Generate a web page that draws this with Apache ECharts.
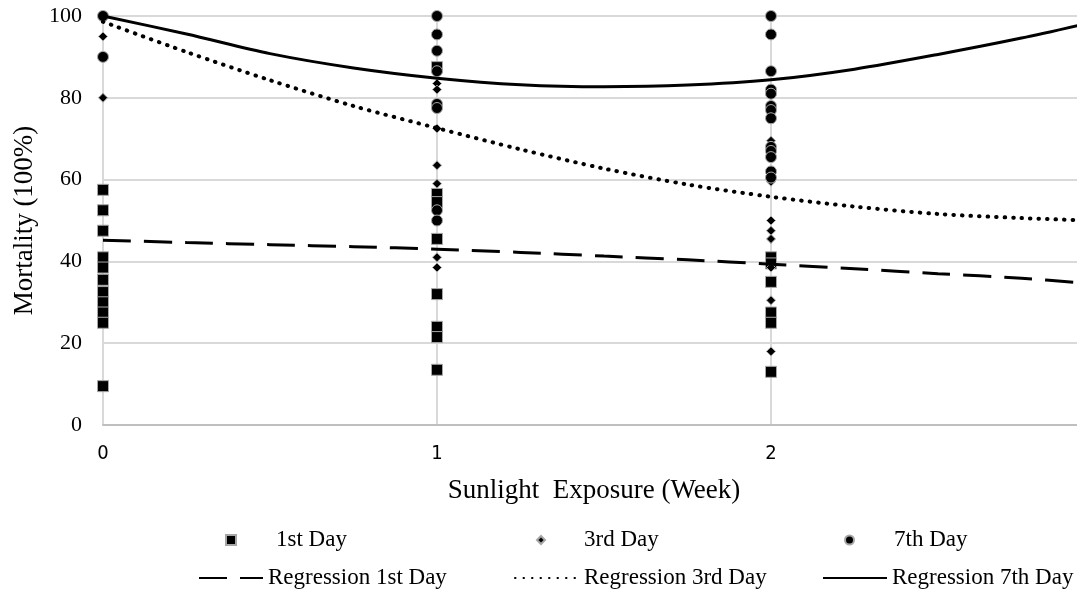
<!DOCTYPE html>
<html>
<head>
<meta charset="utf-8">
<title>Mortality vs Sunlight Exposure</title>
<script src="https://cdn.jsdelivr.net/npm/echarts@6/dist/echarts.min.js"></script>
<style>
  html, body { margin: 0; padding: 0; background: #fff; }
  #chart { width: 1077px; height: 593px; }
</style>
</head>
<body>
<div id="chart"></div>
<script>
// weeks of sunlight exposure for the measured points
const weeks = [0, 1, 2]

// mortality, per week
const day1Week0 = [57.5, 52.5, 47.5, 41, 38.5, 35.5, 32.5, 30, 27.5, 25, 9.5]
const day1Week1 = [87.5, 56.5, 54.5, 45.5, 32, 24, 21.5, 13.5]
const day1Week2 = [41, 39.5, 35, 27.5, 25, 13]

const day3Week0 = [100, 95, 80]
const day3Week1 = [83.5, 82, 72.5, 63.5, 59, 41, 38.5]
const day3Week2 = [75, 69.5, 59.5, 50, 47.5, 45.5, 38.5, 30.5, 18]

const day7Week0 = [100, 90]
const day7Week1 = [100, 95.5, 91.5, 86.5, 78.5, 77.5, 52.5, 50]
const day7Week2 = [100, 95.5, 86.5, 82, 81, 78, 77, 75, 68, 67, 65.5, 62, 60.5]

// regression curves, read at these x positions
const fitWeeks = [0, 0.25, 0.5, 0.75, 1, 1.25, 1.5, 1.75, 2, 2.25, 2.5, 2.75, 2.92]
const reg1 = [45.2, 44.6, 44.1, 43.6, 43.0, 42.2, 41.3, 40.4, 39.3, 38.2, 37.0, 35.9, 34.8]
const reg3 = [98.6, 91.2, 84.3, 78.0, 72.6, 67.4, 62.7, 58.8, 55.8, 53.4, 51.6, 50.6, 50.1]
const reg7 = [100, 95.6, 90.8, 87.3, 84.8, 83.2, 82.7, 83.1, 84.4, 87.0, 90.6, 94.6, 97.7]

const yTicks = [0, 20, 40, 60, 80, 100]

function points(groups) {
  let out = []
  groups.forEach((vals, i) => {
    vals.forEach(v => out.push([weeks[i], v]))
  })
  return out
}

function curve(ys) {
  return ys.map((y, i) => [fitWeeks[i], y])
}

const serif = "'Liberation Serif', 'Times New Roman', serif"

let myChart = echarts.init(document.getElementById('chart'))

const markerStyle = {
  color: '#000',
  borderColor: '#a6a6a6',
  borderWidth: 1,
  opacity: 1,
}

function legendBox(name, left, top, w, h, pad, isLine) {
  let box = {
    data: [name],
    left: left,
    top: top,
    padding: 0,
    itemWidth: w,
    itemHeight: h,
    selectedMode: false,
    textStyle: {
      fontFamily: serif,
      fontSize: 23,
      lineHeight: 26,
      color: '#000',
      padding: [0, 0, 0, pad],
    },
  }
  // line legends: only the stroke, no marker in the middle
  if (isLine) {
    box.itemStyle = { color: 'rgba(0,0,0,0)', borderWidth: 0, opacity: 0 }
  }
  return box
}

myChart.setOption({
  animation: false,
  backgroundColor: '#fff',
  grid: {
    left: 103,
    right: -28,
    top: 16,
    bottom: 168,
    outerBoundsMode: 'none',
    containLabel: false,
  },
  legend: [
    legendBox('1st Day', 225, 527, 10, 10, 35),
    legendBox('3rd Day', 536, 527, 8, 8, 34),
    legendBox('7th Day', 844, 527, 9, 9, 35),
    legendBox('Regression 1st Day', 198, 565, 64, 14, 0, true),
    legendBox('Regression 3rd Day', 514, 565, 64, 14, 0, true),
    legendBox('Regression 7th Day', 822, 565, 64, 14, 0, true),
  ],
  xAxis: {
    type: 'value',
    min: 0,
    max: 3,
    interval: 1,
    name: 'Sunlight  Exposure (Week)',
    nameLocation: 'middle',
    nameGap: 52,
    nameTextStyle: {
      fontFamily: serif,
      fontSize: 27,
      color: '#000',
      padding: [0, 20, 0, 0],
    },
    axisLine: {
      lineStyle: { color: '#bfbfbf', width: 2 },
    },
    axisTick: { show: false },
    axisLabel: {
      margin: 19,
      showMaxLabel: false,
      fontFamily: "'Liberation Sans Narrow', 'DejaVu Sans Condensed', sans-serif",
      fontSize: 20,
      color: '#000',
    },
    splitLine: {
      show: true,
      lineStyle: { color: '#d9d9d9', width: 2 },
    },
  },
  yAxis: {
    type: 'value',
    min: yTicks[0],
    max: yTicks[yTicks.length - 1],
    interval: 20,
    name: 'Mortality (100%)',
    nameLocation: 'middle',
    nameGap: 62,
    nameTextStyle: {
      fontFamily: serif,
      fontSize: 27,
      color: '#000',
    },
    axisLine: { show: false },
    axisTick: { show: false },
    axisLabel: {
      margin: 21,
      fontFamily: serif,
      fontSize: 22,
      color: '#000',
    },
    splitLine: {
      lineStyle: { color: '#d9d9d9', width: 2 },
    },
  },
  series: [
    {
      name: '1st Day',
      type: 'scatter',
      symbol: 'rect',
      symbolSize: 11,
      itemStyle: markerStyle,
      data: points([day1Week0, day1Week1, day1Week2]),
    },
    {
      name: '3rd Day',
      type: 'scatter',
      symbol: 'diamond',
      symbolSize: 9,
      itemStyle: markerStyle,
      data: points([day3Week0, day3Week1, day3Week2]),
    },
    {
      name: '7th Day',
      type: 'scatter',
      symbol: 'circle',
      symbolSize: 11,
      itemStyle: markerStyle,
      data: points([day7Week0, day7Week1, day7Week2]),
    },
    {
      name: 'Regression 1st Day',
      type: 'line',
      smooth: 0.3,
      symbol: 'none',
      lineStyle: { color: '#000', width: 3, type: [28, 13] },
      itemStyle: { color: '#000' },
      data: curve(reg1),
    },
    {
      name: 'Regression 3rd Day',
      type: 'line',
      smooth: 0.3,
      symbol: 'none',
      lineStyle: { color: '#000', width: 4, type: [0.5, 8], cap: 'round' },
      itemStyle: { color: '#000' },
      data: curve(reg3),
    },
    {
      name: 'Regression 7th Day',
      type: 'line',
      smooth: 0.3,
      symbol: 'none',
      lineStyle: { color: '#000', width: 3 },
      itemStyle: { color: '#000' },
      data: curve(reg7),
    },
  ],
})
</script>
</body>
</html>
